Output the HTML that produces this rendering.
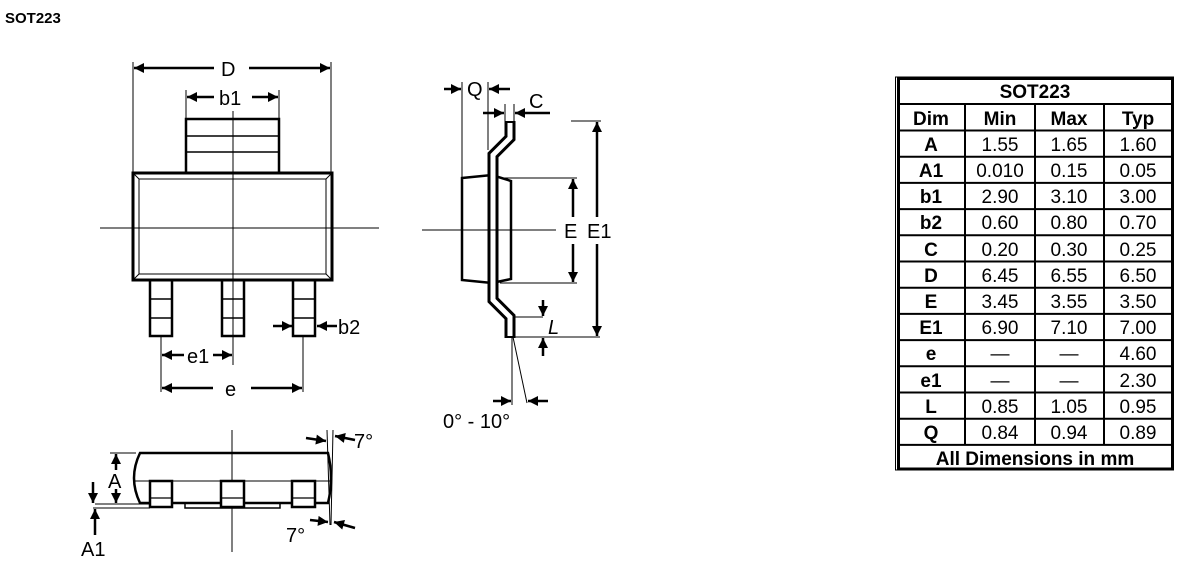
<!DOCTYPE html>
<html><head><meta charset="utf-8"><style>
html,body{margin:0;padding:0;background:#fff;width:1193px;height:565px;overflow:hidden}
svg{display:block;font-family:"Liberation Sans",Arial,sans-serif}
</style></head><body>
<svg width="1193" height="565" viewBox="0 0 1193 565" xmlns="http://www.w3.org/2000/svg">
<defs>
<marker id="ar" viewBox="0 0 10 10" refX="10" refY="5" markerWidth="11" markerHeight="10" markerUnits="userSpaceOnUse" orient="auto"><path d="M0,0 L10,5 L0,10 z" fill="#000"/></marker>
</defs>
<text x="5" y="23" font-size="15" font-weight="bold">SOT223</text>

<!-- TOP VIEW -->
<g stroke="#000" fill="none">
<line x1="133" y1="62" x2="133" y2="173" stroke-width="1"/>
<line x1="331" y1="62" x2="331" y2="173" stroke-width="1"/>
<line x1="214" y1="68" x2="134" y2="68" stroke-width="2.5" marker-end="url(#ar)"/>
<line x1="249" y1="68" x2="330" y2="68" stroke-width="2.5" marker-end="url(#ar)"/>
<line x1="186" y1="90" x2="186" y2="118" stroke-width="1"/>
<line x1="279" y1="90" x2="279" y2="118" stroke-width="1"/>
<line x1="214" y1="97" x2="187" y2="97" stroke-width="2.5" marker-end="url(#ar)"/>
<line x1="252" y1="97" x2="278" y2="97" stroke-width="2.5" marker-end="url(#ar)"/>
<rect x="186" y="119" width="93" height="54" stroke-width="2.5"/>
<line x1="186" y1="136" x2="279" y2="136" stroke-width="1.5"/>
<line x1="186" y1="152" x2="279" y2="152" stroke-width="1.5"/>
<rect x="133" y="173" width="199" height="107" stroke-width="3"/>
<rect x="139" y="179" width="187" height="95" stroke-width="1"/>
<line x1="133" y1="173" x2="139" y2="179" stroke-width="1"/>
<line x1="332" y1="173" x2="326" y2="179" stroke-width="1"/>
<line x1="133" y1="280" x2="139" y2="274" stroke-width="1"/>
<line x1="332" y1="280" x2="326" y2="274" stroke-width="1"/>
<line x1="233" y1="111" x2="233" y2="365" stroke-width="1"/>
<line x1="100" y1="228" x2="379" y2="228" stroke-width="1"/>
<rect x="150" y="280" width="22" height="56" stroke-width="2.5"/>
<line x1="150" y1="299" x2="172" y2="299" stroke-width="1.5"/><line x1="150" y1="318" x2="172" y2="318" stroke-width="1.5"/>
<rect x="222" y="280" width="22" height="56" stroke-width="2.5"/>
<line x1="222" y1="299" x2="244" y2="299" stroke-width="1.5"/><line x1="222" y1="318" x2="244" y2="318" stroke-width="1.5"/>
<rect x="293" y="280" width="22" height="56" stroke-width="2.5"/>
<line x1="293" y1="299" x2="315" y2="299" stroke-width="1.5"/><line x1="293" y1="318" x2="315" y2="318" stroke-width="1.5"/>
<line x1="273" y1="326" x2="292" y2="326" stroke-width="2.5" marker-end="url(#ar)"/>
<line x1="337" y1="326" x2="317" y2="326" stroke-width="2.5" marker-end="url(#ar)"/>
<line x1="161" y1="336" x2="161" y2="392" stroke-width="1"/>
<line x1="303" y1="336" x2="303" y2="392" stroke-width="1"/>
<line x1="184" y1="355" x2="162" y2="355" stroke-width="2.5" marker-end="url(#ar)"/>
<line x1="213" y1="355" x2="232" y2="355" stroke-width="2.5" marker-end="url(#ar)"/>
<line x1="213" y1="388" x2="162" y2="388" stroke-width="2.5" marker-end="url(#ar)"/>
<line x1="251" y1="388" x2="302" y2="388" stroke-width="2.5" marker-end="url(#ar)"/>
</g>
<g font-size="20">
<text x="221" y="76">D</text>
<text x="219" y="105">b1</text>
<text x="338" y="334">b2</text>
<text x="187" y="363">e1</text>
<text x="225" y="396">e</text>
</g>

<!-- SIDE VIEW -->
<g stroke="#000" fill="none">
<path d="M462,178 L492,175 L511,181 L511,279 L492,283 L462,280 Z" stroke-width="2.5" fill="#fff"/>
<path d="M510,121 L510,138 L493,155 L493,300 L510,317 L510,338" stroke-width="11" stroke-linejoin="miter"/>
<path d="M510,123 L510,138 L493,155 L493,300 L510,317 L510,336" stroke="#fff" stroke-width="5" stroke-linejoin="miter"/>
<line x1="422" y1="230" x2="556" y2="230" stroke-width="1"/>
<line x1="462" y1="82" x2="462" y2="178" stroke-width="1"/>
<line x1="488" y1="82" x2="488" y2="150" stroke-width="1"/>
<line x1="444" y1="89" x2="461" y2="89" stroke-width="2.5" marker-end="url(#ar)"/>
<line x1="510" y1="89" x2="489" y2="89" stroke-width="2.5" marker-end="url(#ar)"/>
<line x1="505" y1="104" x2="505" y2="124" stroke-width="1"/>
<line x1="514" y1="104" x2="514" y2="124" stroke-width="1"/>
<line x1="483" y1="113" x2="504" y2="113" stroke-width="2.5" marker-end="url(#ar)"/>
<line x1="550" y1="113" x2="515" y2="113" stroke-width="2.5" marker-end="url(#ar)"/>
<line x1="571" y1="121" x2="601" y2="121" stroke-width="1"/>
<line x1="500" y1="178" x2="577" y2="178" stroke-width="1"/>
<line x1="500" y1="283" x2="577" y2="283" stroke-width="1"/>
<line x1="573" y1="217" x2="573" y2="179" stroke-width="2.5" marker-end="url(#ar)"/>
<line x1="573" y1="244" x2="573" y2="282" stroke-width="2.5" marker-end="url(#ar)"/>
<line x1="597" y1="217" x2="597" y2="122" stroke-width="2.5" marker-end="url(#ar)"/>
<line x1="597" y1="244" x2="597" y2="336" stroke-width="2.5" marker-end="url(#ar)"/>
<line x1="513" y1="317" x2="543" y2="317" stroke-width="1"/>
<line x1="513" y1="337" x2="600" y2="337" stroke-width="1"/>
<line x1="543" y1="300" x2="543" y2="316" stroke-width="2.5" marker-end="url(#ar)"/>
<line x1="543" y1="356" x2="543" y2="338" stroke-width="2.5" marker-end="url(#ar)"/>
<line x1="512" y1="337" x2="512" y2="405" stroke-width="1"/>
<line x1="513" y1="337" x2="527" y2="403" stroke-width="1"/>
<line x1="493" y1="401" x2="511" y2="401" stroke-width="2.5" marker-end="url(#ar)"/>
<line x1="548" y1="401" x2="528" y2="401" stroke-width="2.5" marker-end="url(#ar)"/>
</g>
<g font-size="20">
<text x="467" y="96">Q</text>
<text x="529" y="108">C</text>
<text x="564" y="238">E</text>
<text x="587" y="238">E1</text>
<text x="548" y="334" font-style="italic">L</text>
<text x="443" y="428">0° - 10°</text>
</g>

<!-- BOTTOM VIEW -->
<g stroke="#000" fill="none">
<line x1="232" y1="430" x2="232" y2="552" stroke-width="1"/>
<path d="M140,453 L328,453 Q334,478 328,503 L140,503 Q128,478 140,453 Z" stroke-width="2.5"/>
<line x1="133" y1="481" x2="331" y2="481" stroke-width="1"/>
<rect x="185" y="503" width="95" height="5" stroke-width="1.5"/>
<rect x="150" y="481" width="22" height="26" stroke-width="2.5" fill="#fff"/>
<line x1="150" y1="498" x2="172" y2="498" stroke-width="1.2"/>
<rect x="221" y="481" width="23" height="26" stroke-width="2.5" fill="#fff"/>
<line x1="221" y1="498" x2="244" y2="498" stroke-width="1.2"/>
<rect x="292" y="481" width="23" height="26" stroke-width="2.5" fill="#fff"/>
<line x1="292" y1="498" x2="315" y2="498" stroke-width="1.2"/>
<line x1="110" y1="453" x2="136" y2="453" stroke-width="1"/>
<line x1="95" y1="504" x2="150" y2="504" stroke-width="1"/>
<line x1="93" y1="508" x2="150" y2="508" stroke-width="1"/>
<line x1="116" y1="470" x2="116" y2="454" stroke-width="2.5" marker-end="url(#ar)"/>
<line x1="116" y1="489" x2="116" y2="503" stroke-width="2.5" marker-end="url(#ar)"/>
<line x1="93" y1="482" x2="93" y2="503" stroke-width="2.5" marker-end="url(#ar)"/>
<line x1="95" y1="535" x2="95" y2="509" stroke-width="2.5" marker-end="url(#ar)"/>
<line x1="327" y1="430" x2="330" y2="525" stroke-width="1"/>
<line x1="333" y1="430" x2="331" y2="525" stroke-width="1"/>
<line x1="306" y1="438" x2="326" y2="441" stroke-width="2.5" marker-end="url(#ar)"/>
<line x1="355" y1="440" x2="335" y2="436" stroke-width="2.5" marker-end="url(#ar)"/>
<line x1="310" y1="520" x2="328" y2="522" stroke-width="2.5" marker-end="url(#ar)"/>
<line x1="355" y1="528" x2="334" y2="522" stroke-width="2.5" marker-end="url(#ar)"/>
</g>
<g font-size="20">
<text x="108" y="488">A</text>
<text x="81" y="556">A1</text>
<text x="354" y="448">7°</text>
<text x="286" y="542">7°</text>
</g>

<!-- TABLE -->
<g stroke="#000" fill="none">
<rect x="895.5" y="77" width="278" height="393" stroke-width="1"/>
<rect x="898.5" y="78.5" width="274" height="390.5" stroke-width="3"/>
<line x1="898" y1="104" x2="1173" y2="104" stroke-width="2"/>
<line x1="898" y1="130.5" x2="1173" y2="130.5" stroke-width="2"/>
<line x1="898" y1="156.7" x2="1173" y2="156.7" stroke-width="2"/>
<line x1="898" y1="182.9" x2="1173" y2="182.9" stroke-width="2"/>
<line x1="898" y1="209.1" x2="1173" y2="209.1" stroke-width="2"/>
<line x1="898" y1="235.3" x2="1173" y2="235.3" stroke-width="2"/>
<line x1="898" y1="261.5" x2="1173" y2="261.5" stroke-width="2"/>
<line x1="898" y1="287.7" x2="1173" y2="287.7" stroke-width="2"/>
<line x1="898" y1="313.9" x2="1173" y2="313.9" stroke-width="2"/>
<line x1="898" y1="340.1" x2="1173" y2="340.1" stroke-width="2"/>
<line x1="898" y1="366.3" x2="1173" y2="366.3" stroke-width="2"/>
<line x1="898" y1="392.5" x2="1173" y2="392.5" stroke-width="2"/>
<line x1="898" y1="418.7" x2="1173" y2="418.7" stroke-width="2"/>
<line x1="898" y1="444.9" x2="1173" y2="444.9" stroke-width="2"/>
<line x1="965" y1="104" x2="965" y2="445" stroke-width="2"/>
<line x1="1035" y1="104" x2="1035" y2="445" stroke-width="2"/>
<line x1="1104" y1="104" x2="1104" y2="445" stroke-width="2"/>
</g>
<g font-size="19" text-anchor="middle">
<text x="1035" y="98" font-weight="bold">SOT223</text>
<g font-weight="bold">
<text x="931" y="125">Dim</text><text x="1000" y="125">Min</text><text x="1069" y="125">Max</text><text x="1138" y="125">Typ</text>
</g>
<g font-weight="bold">
<text x="931" y="151">A</text><text x="931" y="177">A1</text><text x="931" y="203">b1</text><text x="931" y="229">b2</text>
<text x="931" y="256">C</text><text x="931" y="282">D</text><text x="931" y="308">E</text><text x="931" y="334">E1</text>
<text x="931" y="360">e</text><text x="931" y="387">e1</text><text x="931" y="413">L</text><text x="931" y="439">Q</text>
</g>
<text x="1000" y="151">1.55</text><text x="1069" y="151">1.65</text><text x="1138" y="151">1.60</text>
<text x="1000" y="177">0.010</text><text x="1069" y="177">0.15</text><text x="1138" y="177">0.05</text>
<text x="1000" y="203">2.90</text><text x="1069" y="203">3.10</text><text x="1138" y="203">3.00</text>
<text x="1000" y="229">0.60</text><text x="1069" y="229">0.80</text><text x="1138" y="229">0.70</text>
<text x="1000" y="256">0.20</text><text x="1069" y="256">0.30</text><text x="1138" y="256">0.25</text>
<text x="1000" y="282">6.45</text><text x="1069" y="282">6.55</text><text x="1138" y="282">6.50</text>
<text x="1000" y="308">3.45</text><text x="1069" y="308">3.55</text><text x="1138" y="308">3.50</text>
<text x="1000" y="334">6.90</text><text x="1069" y="334">7.10</text><text x="1138" y="334">7.00</text>
<text x="1000" y="360">—</text><text x="1069" y="360">—</text><text x="1138" y="360">4.60</text>
<text x="1000" y="387">—</text><text x="1069" y="387">—</text><text x="1138" y="387">2.30</text>
<text x="1000" y="413">0.85</text><text x="1069" y="413">1.05</text><text x="1138" y="413">0.95</text>
<text x="1000" y="439">0.84</text><text x="1069" y="439">0.94</text><text x="1138" y="439">0.89</text>
<text x="1035" y="465" font-weight="bold">All Dimensions in mm</text>
</g>
</svg>
</body></html>
